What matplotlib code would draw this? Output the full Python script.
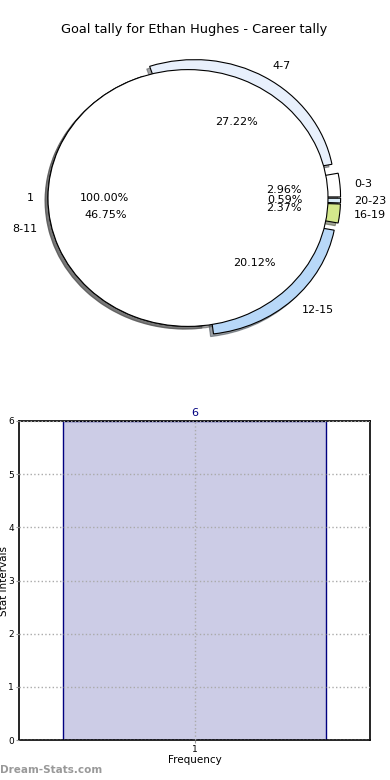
import numpy as np
import matplotlib
matplotlib.use('Agg')
import matplotlib.pyplot as plt

# goal intervals (outer ring)
intervals = ['0-3', '4-7', '8-11', '12-15', '16-19', '20-23']
shares = [2.96, 27.22, 46.75, 20.12, 2.37, 0.59]
ring_colors = ['white', '#e8f0fc', 'white', '#b8d8f8', '#d4e88c', '#d8ecf8']
ring_explode = [0.09, 0.09, 0.0, 0.09, 0.09, 0.09]

# inner pie
inner_labels = ['1']
inner_values = [1]

# frequency bar
freq_labels = ['1']
freq_counts = [6]

title = 'Goal tally for Ethan Hughes - Career tally'

fig = plt.figure(figsize=(3.9, 7.8), dpi=100)

# ---- pie ----
ax = fig.add_axes([13 / 390, 1 - 358.5 / 780, 350 / 390, 321 / 780])
wp = {'edgecolor': 'black', 'linewidth': 0.8}
shad = {'ox': -0.015, 'oy': -0.015}
ax.pie(shares, labels=intervals, colors=ring_colors, explode=ring_explode,
       autopct='%1.2f%%', shadow=shad, startangle=0, wedgeprops=wp,
       textprops={'fontsize': 8})
ax.pie(inner_values, labels=inner_labels, colors=['white'],
       autopct='%1.2f%%', shadow=shad, startangle=0, wedgeprops=wp,
       textprops={'fontsize': 8})
ax.set_aspect('auto')
ax.set_xlim(-1.25, 1.25)
ax.set_ylim(-1.25, 1.25)
ax.set_title(title, fontsize=9.3, pad=3, x=(194 - 13) / 350)

# ---- bar ----
ax2 = fig.add_axes([19 / 390, 40 / 780, 351 / 390, 319 / 780])
x = np.arange(1, len(freq_counts) + 1)
ax2.bar(x, freq_counts, width=0.75, color=(0.8, 0.8, 0.9),
        edgecolor='navy', linewidth=1, zorder=2)
for xi, c in zip(x, freq_counts):
    ax2.annotate(str(c), (xi, c), xytext=(0, 2), textcoords='offset points',
                 ha='center', va='bottom', color='navy', fontsize=8)
ax2.set_xlim(0.5, len(freq_counts) + 0.5)
ax2.set_ylim(0, max(freq_counts))
ax2.set_xticks(x)
ax2.set_xticklabels(freq_labels)
ax2.set_yticks(np.arange(0, max(freq_counts) + 1))
ax2.tick_params(labelsize=6.5, length=2.5, color='#999999', pad=1)
ax2.grid(True, linestyle=':', color='#aaaaaa', linewidth=1, zorder=3)
ax2.set_axisbelow(False)
for s in ax2.spines.values():
    s.set_linewidth(1.2)
ax2.set_xlabel('Frequency', fontsize=7.5, labelpad=1)
ax2.set_ylabel('Stat Intervals', fontsize=7.5)
ax2.yaxis.set_label_coords(-10 / 351, 0.5)

fig.text(0.0, 0.013, 'Dream-Stats.com', color='#999999', fontsize=7.5,
         fontweight='bold', ha='left', va='center')

fig.savefig('out.png', dpi=100)
